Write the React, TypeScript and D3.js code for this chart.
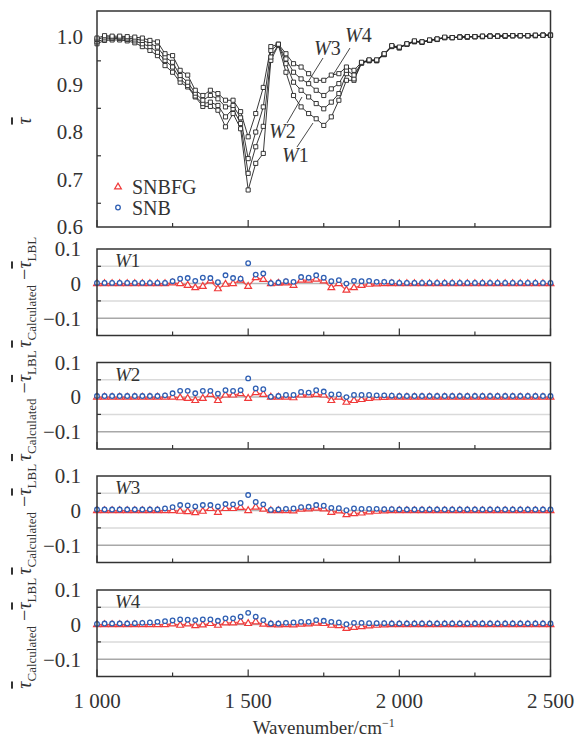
import React from "react";
import * as d3 from "d3";

const WAVENUMBERS = d3.range(1000, 2501, 25);

// Top panel: band-averaged transmissivity, four paths
const TAU_W1 = [
  0.986, 0.993, 0.994, 0.994, 0.992, 0.988, 0.98, 0.972, 0.961, 0.94,
  0.926, 0.905, 0.895, 0.874, 0.854, 0.854, 0.846, 0.811, 0.839, 0.807,
  0.678, 0.734, 0.755, 0.951, 0.983, 0.926, 0.877, 0.853, 0.839, 0.828,
  0.814, 0.832, 0.867, 0.909, 0.909, 0.945, 0.95, 0.95, 0.963, 0.98,
  0.977, 0.985, 0.99, 0.989, 0.993, 0.995, 0.999, 0.999, 1.0, 1.0,
  1.001, 1.001, 1.002, 1.002, 1.002, 1.003, 1.003, 1.003, 1.003, 1.004,
  1.004,
];
const TAU_W2 = [
  0.99, 0.996, 0.997, 0.997, 0.995, 0.992, 0.986, 0.98, 0.968, 0.951,
  0.937, 0.912, 0.898, 0.876, 0.86, 0.863, 0.856, 0.832, 0.849, 0.818,
  0.713, 0.769, 0.812, 0.958, 0.984, 0.944, 0.905, 0.888, 0.874, 0.86,
  0.849, 0.863, 0.881, 0.923, 0.912, 0.946, 0.951, 0.951, 0.964, 0.981,
  0.978, 0.985, 0.991, 0.989, 0.993, 0.995, 0.999, 0.999, 1.0, 1.0,
  1.001, 1.001, 1.002, 1.002, 1.002, 1.003, 1.003, 1.003, 1.003, 1.004,
  1.004,
];
const TAU_W3 = [
  0.995, 1.0, 1.0, 0.999, 0.998, 0.996, 0.993, 0.987, 0.979, 0.958,
  0.947, 0.919, 0.905, 0.882, 0.867, 0.877, 0.87, 0.853, 0.856, 0.83,
  0.744, 0.8, 0.853, 0.972, 0.985, 0.954, 0.926, 0.912, 0.902, 0.888,
  0.877, 0.891, 0.902, 0.93, 0.92, 0.946, 0.951, 0.951, 0.964, 0.981,
  0.978, 0.985, 0.991, 0.99, 0.993, 0.996, 0.999, 0.999, 1.0, 1.001,
  1.001, 1.002, 1.002, 1.002, 1.003, 1.003, 1.003, 1.003, 1.004, 1.004,
  1.004,
];
const TAU_W4 = [
  0.998, 1.003, 1.002, 1.002, 1.001, 1.0, 0.998, 0.993, 0.99, 0.965,
  0.961, 0.93, 0.92, 0.888, 0.877, 0.888, 0.881, 0.867, 0.867, 0.843,
  0.79, 0.839, 0.894, 0.98, 0.985, 0.965, 0.944, 0.937, 0.923, 0.909,
  0.909, 0.92, 0.923, 0.937, 0.93, 0.947, 0.952, 0.952, 0.965, 0.982,
  0.979, 0.986, 0.992, 0.99, 0.994, 0.996, 1.0, 0.999, 1.0, 1.001,
  1.001, 1.002, 1.002, 1.002, 1.003, 1.003, 1.003, 1.003, 1.004, 1.004,
  1.004,
];

// Residuals (calculated - LBL)
const W1_SNB = [
  0.002, 0.002, 0.002, 0.002, 0.002, 0.002, 0.002, 0.002, 0.002, 0.002,
  0.007, 0.014, 0.016, 0.008, 0.017, 0.016, 0.004, 0.024, 0.016, 0.014,
  0.059, 0.026, 0.029, 0.001, 0.003, 0.007, 0.005, 0.019, 0.017, 0.024,
  0.017, 0.007, 0.01, 0.0, 0.008, 0.007, 0.008, 0.005, 0.005, 0.004,
  0.002, 0.002, 0.002, 0.002, 0.002, 0.002, 0.002, 0.002, 0.002, 0.002,
  0.002, 0.002, 0.002, 0.002, 0.002, 0.002, 0.002, 0.002, 0.002, 0.002,
  0.002,
];
const W1_SNBFG = [
  0, 0, 0, 0, 0, 0, 0, 0, 0, 0,
  0.002, 0.0, -0.005, -0.012, -0.008, 0.008, -0.015, -0.002, 0.0, 0.01,
  -0.008, 0.017, 0.012, 0.0, 0.001, 0.002, -0.005, 0.01, 0.01, 0.013,
  0.008, -0.012, 0.0, -0.019, -0.012, -0.005, -0.002, -0.001, 0, 0,
  0, 0, 0, 0, 0, 0, 0, 0, 0, 0,
  0, 0, 0, 0, 0, 0, 0, 0, 0, 0,
  0,
];
const W2_SNB = [
  0.003, 0.003, 0.003, 0.003, 0.003, 0.003, 0.003, 0.003, 0.003, 0.005,
  0.011, 0.018, 0.018, 0.011, 0.018, 0.018, 0.01, 0.02, 0.018, 0.02,
  0.054, 0.025, 0.023, 0.001, 0.003, 0.006, 0.006, 0.015, 0.013, 0.02,
  0.016, 0.008, 0.008, 0.0, 0.006, 0.006, 0.006, 0.005, 0.005, 0.004,
  0.003, 0.003, 0.003, 0.003, 0.003, 0.003, 0.003, 0.003, 0.003, 0.003,
  0.003, 0.003, 0.003, 0.003, 0.003, 0.003, 0.003, 0.003, 0.003, 0.003,
  0.003,
];
const W2_SNBFG = [
  0, 0, 0, 0, 0, 0, 0, 0, 0, 0,
  0, -0.002, -0.004, -0.01, -0.004, 0.008, -0.01, 0.006, 0.006, 0.01,
  -0.004, 0.013, 0.008, 0, 0, 0, -0.002, 0.006, 0.006, 0.008,
  0.006, -0.01, 0, -0.015, -0.01, -0.007, -0.004, -0.002, -0.001, 0,
  0, 0, 0, 0, 0, 0, 0, 0, 0, 0,
  0, 0, 0, 0, 0, 0, 0, 0, 0, 0,
  0,
];
const W3_SNB = [
  0.003, 0.003, 0.003, 0.003, 0.003, 0.003, 0.003, 0.003, 0.003, 0.006,
  0.01, 0.016, 0.015, 0.012, 0.016, 0.016, 0.012, 0.019, 0.018, 0.022,
  0.045, 0.025, 0.018, 0.002, 0.003, 0.005, 0.006, 0.01, 0.011, 0.016,
  0.014, 0.008, 0.007, 0.001, 0.006, 0.005, 0.005, 0.005, 0.004, 0.004,
  0.003, 0.003, 0.003, 0.003, 0.003, 0.003, 0.003, 0.003, 0.003, 0.003,
  0.003, 0.003, 0.003, 0.003, 0.003, 0.003, 0.003, 0.003, 0.003, 0.003,
  0.003,
];
const W3_SNBFG = [
  0, 0, 0, 0, 0, 0, 0, 0, 0, 0,
  0, -0.002, -0.003, -0.006, -0.002, 0.006, -0.005, 0.006, 0.006, 0.009,
  0, 0.01, 0.004, 0, 0, 0, -0.001, 0.004, 0.005, 0.007,
  0.005, -0.005, -0.001, -0.012, -0.009, -0.007, -0.004, -0.002, -0.001, 0,
  0, 0, 0, 0, 0, 0, 0, 0, 0, 0,
  0, 0, 0, 0, 0, 0, 0, 0, 0, 0,
  0,
];
const W4_SNB = [
  0.002, 0.003, 0.003, 0.003, 0.003, 0.004, 0.005, 0.006, 0.008, 0.01,
  0.012, 0.015, 0.014, 0.013, 0.015, 0.015, 0.011, 0.018, 0.018, 0.023,
  0.034, 0.023, 0.013, 0.003, 0.003, 0.005, 0.006, 0.008, 0.008, 0.013,
  0.011, 0.008, 0.006, 0.001, 0.005, 0.005, 0.004, 0.004, 0.004, 0.003,
  0.003, 0.003, 0.003, 0.003, 0.003, 0.003, 0.003, 0.003, 0.003, 0.003,
  0.003, 0.003, 0.003, 0.003, 0.003, 0.003, 0.003, 0.003, 0.003, 0.003,
  0.003,
];
const W4_SNBFG = [
  0, 0, 0, 0, 0, 0, 0, 0, 0, 0,
  0.002, -0.002, 0.002, -0.003, -0.001, 0.003, -0.002, 0.005, 0.005, 0.008,
  0.003, 0.008, 0.001, 0, -0.001, 0, -0.001, 0.001, 0.002, 0.004,
  0.003, -0.002, -0.003, -0.011, -0.008, -0.006, -0.004, -0.002, -0.001, 0,
  0, 0, 0, 0, 0, 0, 0, 0, 0, 0,
  0, 0, 0, 0, 0, 0, 0, 0, 0, 0,
  0,
];

const TOP_SERIES = [TAU_W1, TAU_W2, TAU_W3, TAU_W4];
const PANEL_NAMES = ["1", "2", "3", "4"];
const PANEL_SNB = [W1_SNB, W2_SNB, W3_SNB, W4_SNB];
const PANEL_SNBFG = [W1_SNBFG, W2_SNBFG, W3_SNBFG, W4_SNBFG];

const X_MAJOR = [1000, 1500, 2000, 2500];
const X_MINOR = [1250, 1750, 2250];
const X_LABELS = ["1 000", "1 500", "2 000", "2 500"];
const TOP_Y_TICKS = [0.6, 0.7, 0.8, 0.9, 1.0];
const TOP_Y_MINOR = [0.65, 0.75, 0.85, 0.95];
const RES_Y_TICKS = [0.1, 0, -0.1];
const RES_Y_LABELS = ["0.1", "0", "\u22120.1"];

const FONT = "'Liberation Serif', 'Times New Roman', serif";
const LEFT = 97;
const RIGHT = 550.5;
const TOP_T = 11;
const TOP_B = 227;
const RES_TOPS = [249, 362.5, 476, 590];
const RES_H = 86.5;
const FRAME = "#333";
const RED = "#f03a3a";
const BLUE = "#2f5fb3";
const TICK_FS = 21;

export default function App() {
  const x = d3.scaleLinear().domain([1000, 2500]).range([LEFT, RIGHT]);
  const yTop = d3.scaleLinear().domain([0.6, 1.055]).range([TOP_B, TOP_T]);
  const sq = d3.symbol(d3.symbolSquare, 17)()!;
  const tri = d3.symbol(d3.symbolTriangle, 20)()!;

  const xTicks = (bottom: number) => (
    <g>
      {X_MAJOR.map((t) => (
        <line key={"M" + t} x1={x(t)} x2={x(t)} y1={bottom} y2={bottom - 7} stroke={FRAME} strokeWidth={1.2} />
      ))}
      {X_MINOR.map((t) => (
        <line key={"m" + t} x1={x(t)} x2={x(t)} y1={bottom} y2={bottom - 4} stroke={FRAME} strokeWidth={1.2} />
      ))}
    </g>
  );

  const topLine = d3
    .line<number>()
    .x((_, i) => x(WAVENUMBERS[i]))
    .y((d) => yTop(d));

  const wLabel = (num: string, tx: number, ty: number, size = 20) => (
    <text x={tx} y={ty} fontSize={size} fontFamily={FONT} fill="#333">
      <tspan fontStyle="italic">W</tspan>
      {num}
    </text>
  );

  return (
    <svg width={577} height={744} style={{ position: "absolute", left: 0, top: 0, background: "#fff" }}>
      {/* ===== Top panel ===== */}
      <g>
        {TOP_SERIES.map((s, k) => (
          <path key={k} d={topLine(s)!} fill="none" stroke="#222" strokeWidth={0.9} />
        ))}
        {TOP_SERIES.map((s, k) => (
          <g key={"p" + k}>
            {s.map((v, i) => (
              <path
                key={i}
                d={sq}
                transform={`translate(${x(WAVENUMBERS[i])},${yTop(v)})`}
                fill="#fff"
                stroke="#222"
                strokeWidth={0.9}
              />
            ))}
          </g>
        ))}
        <rect x={LEFT} y={TOP_T} width={RIGHT - LEFT} height={TOP_B - TOP_T} fill="none" stroke={FRAME} strokeWidth={1.5} />
        {xTicks(TOP_B)}
        {TOP_Y_MINOR.map((t) => (
          <line key={t} x1={LEFT} x2={LEFT + 4} y1={yTop(t)} y2={yTop(t)} stroke={FRAME} strokeWidth={1.2} />
        ))}
        {TOP_Y_TICKS.map((t) => (
          <text key={t} x={83} y={yTop(t)} dy="0.35em" textAnchor="end" fontSize={TICK_FS} fontFamily={FONT} fill="#333">
            {t.toFixed(1)}
          </text>
        ))}
        <text transform={`translate(31,${(TOP_T + TOP_B) / 2 + 2}) rotate(-90)`} textAnchor="middle" fontSize={20} fontFamily={FONT} fill="#333">
          <tspan fontStyle="italic" textDecoration="overline">τ</tspan>
        </text>

        {/* legend */}
        <path d={tri} transform="translate(118,187)" fill="#fff" stroke={RED} strokeWidth={1.2} />
        <text x={132} y={194} fontSize={20} fontFamily={FONT} fill="#333">SNBFG</text>
        <circle cx={118} cy={207.5} r={2.3} fill="#fff" stroke={BLUE} strokeWidth={1.3} />
        <text x={132} y={214.5} fontSize={20} fontFamily={FONT} fill="#333">SNB</text>

        {/* annotations */}
        <g stroke="#333" strokeWidth={0.9}>
          <line x1={350} y1={48} x2={333} y2={75} />
          <line x1={323} y1={58} x2={308} y2={82} />
          <line x1={287} y1={123} x2={302} y2={97} />
          <line x1={297} y1={147} x2={313} y2={123} />
        </g>
        {wLabel("4", 345, 42)}
        {wLabel("3", 314, 55)}
        {wLabel("2", 269, 138)}
        {wLabel("1", 282, 162)}
      </g>

      {/* ===== Residual panels ===== */}
      {RES_TOPS.map((top, p) => {
        const bottom = top + RES_H;
        const y = d3.scaleLinear().domain([-0.15, 0.1]).range([bottom, top]);
        const redLine = d3
          .line<number>()
          .x((_, i) => x(WAVENUMBERS[i]))
          .y((d) => y(d));
        const cy = top + RES_H / 2;
        return (
          <g key={p}>
            <line x1={LEFT} x2={RIGHT} y1={y(0.05)} y2={y(0.05)} stroke="#dadada" strokeWidth={1.5} />
            <line x1={LEFT} x2={RIGHT} y1={y(-0.05)} y2={y(-0.05)} stroke="#dadada" strokeWidth={1.5} />
            <line x1={LEFT} x2={RIGHT} y1={y(-0.1)} y2={y(-0.1)} stroke="#a8a8a8" strokeWidth={1.5} />
            <line x1={LEFT} x2={RIGHT} y1={y(0)} y2={y(0)} stroke="#b8b8b8" strokeWidth={1.5} />
            <path d={redLine(PANEL_SNBFG[p])!} fill="none" stroke={RED} strokeOpacity={0.85} strokeWidth={1.3} />
            {PANEL_SNBFG[p].map((v, i) => (
              <path
                key={"t" + i}
                d={tri}
                transform={`translate(${x(WAVENUMBERS[i])},${y(v)})`}
                fill="#fff"
                stroke={RED}
                strokeWidth={1.2}
              />
            ))}
            {PANEL_SNB[p].map((v, i) => (
              <circle key={"c" + i} cx={x(WAVENUMBERS[i])} cy={y(v)} r={2.3} fill="#fff" stroke={BLUE} strokeWidth={1.3} />
            ))}
            <rect x={LEFT} y={top} width={RIGHT - LEFT} height={RES_H} fill="none" stroke={FRAME} strokeWidth={1.5} />
            {xTicks(bottom)}
            {[0.05, -0.05].map((t) => (
              <line key={t} x1={LEFT} x2={LEFT + 4} y1={y(t)} y2={y(t)} stroke={FRAME} strokeWidth={1.2} />
            ))}
            {RES_Y_TICKS.map((t, i) => (
              <text key={t} x={81} y={y(t)} dy="0.35em" textAnchor="end" fontSize={TICK_FS} fontFamily={FONT} fill="#333">
                {RES_Y_LABELS[i]}
              </text>
            ))}
            {wLabel(PANEL_NAMES[p], LEFT + 18, top + 18, 19)}
            <text transform={`translate(31,${cy}) rotate(-90)`} textAnchor="middle" fontSize={20} fontFamily={FONT} fill="#333">
              <tspan fontStyle="italic" textDecoration="overline">τ</tspan>
              <tspan fontSize={13} dy={5}>Calculated</tspan>
              <tspan dy={-5}>{" \u2212"}</tspan>
              <tspan fontStyle="italic" textDecoration="overline">τ</tspan>
              <tspan fontSize={13} dy={5}>LBL</tspan>
            </text>
          </g>
        );
      })}

      {/* x-axis labels */}
      {X_MAJOR.map((t, i) => (
        <text key={t} x={x(t)} y={708} textAnchor="middle" fontSize={TICK_FS} fontFamily={FONT} fill="#333">
          {X_LABELS[i]}
        </text>
      ))}
      <text x={(LEFT + RIGHT) / 2} y={734} textAnchor="middle" fontSize={19} fontFamily={FONT} fill="#333">
        Wavenumber/cm<tspan fontSize={12} dy={-7}>{"\u22121"}</tspan>
      </text>
    </svg>
  );
}
